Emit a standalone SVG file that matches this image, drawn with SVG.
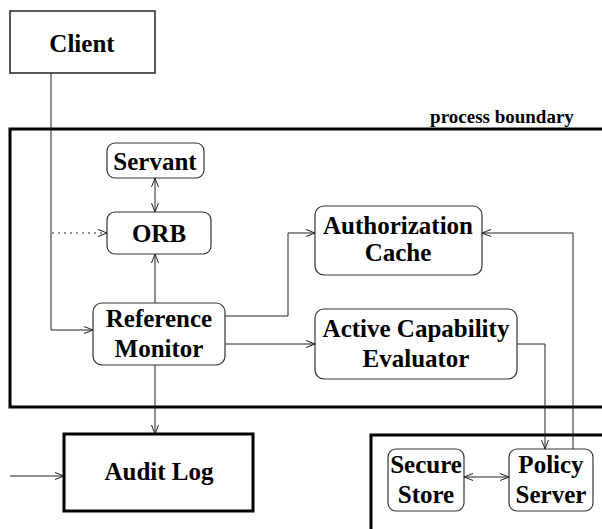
<svg xmlns="http://www.w3.org/2000/svg" width="602" height="529" viewBox="0 0 602 529">
<style>
.t{font-family:"Liberation Serif","Times New Roman",serif;font-weight:bold;font-size:25px;text-anchor:middle;fill:#000}
.s{font-family:"Liberation Serif","Times New Roman",serif;font-weight:bold;font-size:19px;text-anchor:middle;fill:#000}
.n{fill:#fff;stroke:#333;stroke-width:1.2}
.b{fill:none;stroke:#000;stroke-width:3}
.c{fill:none;stroke:#222;stroke-width:1}
</style>
<defs>
<marker id="a" markerUnits="userSpaceOnUse" markerWidth="12" markerHeight="10" refX="9" refY="4" orient="auto-start-reverse">
<path d="M0,0.5 L9,4 L0,7.5" fill="none" stroke="#222" stroke-width="1"/>
</marker>
</defs>
<rect width="602" height="529" fill="#fff"/>
<g id="boundaries">
<path class="b" d="M606,129 H10 V407 H606"/>
<path class="b" d="M606,435 H371 V535"/>
<text class="s" x="502" y="123">process boundary</text>
</g>
<g id="connectors">
<path class="c" d="M51,73 V330 H93" marker-end="url(#a)"/>
<path class="c" d="M52,233 H107" stroke-dasharray="2,4" marker-end="url(#a)"/>
<path class="c" d="M155,178 V212" marker-start="url(#a)" marker-end="url(#a)"/>
<path class="c" d="M155,303 V254" marker-end="url(#a)"/>
<path class="c" d="M155,365 V434" marker-end="url(#a)"/>
<path class="c" d="M10,476 H64" marker-end="url(#a)"/>
<path class="c" d="M225,316 H288 V233 H315" marker-end="url(#a)"/>
<path class="c" d="M225,344 H315" marker-end="url(#a)"/>
<path class="c" d="M517,344 H545 V449" marker-end="url(#a)"/>
<path class="c" d="M573,449 V233 H482" marker-end="url(#a)"/>
<path class="c" d="M464,477 H509" marker-start="url(#a)" marker-end="url(#a)"/>
</g>
<g id="client">
<rect x="10" y="11" width="145" height="62" fill="#fff" stroke="#222" stroke-width="1.5"/>
<text class="t" x="82" y="52">Client</text>
</g>
<g id="servant">
<rect class="n" x="107" y="143" width="97" height="35" rx="8"/>
<text class="t" x="155" y="170">Servant</text>
</g>
<g id="orb">
<rect class="n" x="107" y="212" width="104" height="42" rx="8"/>
<text class="t" x="159" y="242">ORB</text>
</g>
<g id="reference-monitor">
<rect class="n" x="93" y="303" width="132" height="62" rx="9"/>
<text class="t" x="159" y="327">Reference</text>
<text class="t" x="159" y="357">Monitor</text>
</g>
<g id="authorization-cache">
<rect class="n" x="315" y="206" width="167" height="69" rx="9"/>
<text class="t" x="398" y="234">Authorization</text>
<text class="t" x="398" y="261">Cache</text>
</g>
<g id="active-capability-evaluator">
<rect class="n" x="315" y="309" width="202" height="70" rx="9"/>
<text class="t" x="416" y="337">Active Capability</text>
<text class="t" x="416" y="367">Evaluator</text>
</g>
<g id="audit-log">
<rect x="64" y="434" width="189" height="77" fill="#fff" stroke="#000" stroke-width="3"/>
<text class="t" x="159" y="480">Audit Log</text>
</g>
<g id="secure-store">
<rect class="n" x="388" y="449" width="76" height="62" rx="8"/>
<text class="t" x="426" y="473">Secure</text>
<text class="t" x="426" y="503">Store</text>
</g>
<g id="policy-server">
<rect class="n" x="509" y="449" width="84" height="62" rx="8"/>
<text class="t" x="551" y="473">Policy</text>
<text class="t" x="551" y="503">Server</text>
</g>
</svg>
